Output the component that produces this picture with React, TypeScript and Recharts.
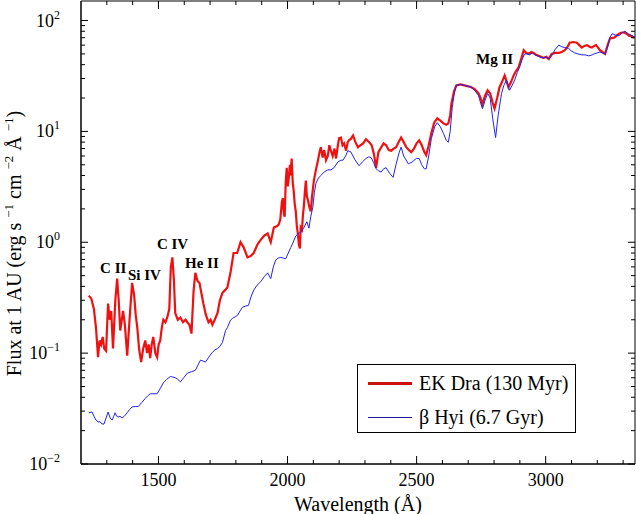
import {
  LineChart,
  Line,
  XAxis,
  YAxis,
  ReferenceArea,
  ReferenceDot,
  Legend,
} from "recharts";

// EK Dra (130 Myr) spectrum
const ekWave = [
  1230, 1240, 1250, 1258, 1266, 1272, 1278, 1284, 1290, 1297, 1305, 1311, 1317, 1324, 1333, 1340, 1346,
  1352, 1358, 1363, 1370, 1379, 1388, 1398, 1406, 1412, 1418, 1425, 1433, 1441, 1449, 1456, 1462, 1468,
  1474, 1480, 1488, 1495, 1501, 1507, 1513, 1519, 1527, 1534, 1542, 1548, 1554, 1560, 1565, 1575, 1585,
  1595, 1605, 1612, 1620, 1628, 1636, 1643, 1651, 1659, 1666, 1674, 1684, 1694, 1702, 1709, 1718, 1729,
  1738, 1748, 1758, 1767, 1779, 1791, 1805, 1818, 1830, 1845, 1857, 1869, 1883, 1896, 1910, 1923, 1935,
  1947, 1960, 1966, 1972, 1978, 1982, 1986, 1989, 1993, 1997, 2001, 2005, 2009, 2012, 2016, 2020, 2024,
  2028, 2032, 2036, 2040, 2044, 2048, 2051, 2056, 2060, 2063, 2067, 2071, 2075, 2079, 2084, 2090, 2095,
  2102, 2110, 2118, 2124, 2129, 2136, 2142, 2149, 2156, 2162, 2168, 2175, 2182, 2188, 2195, 2200, 2207,
  2213, 2219, 2227, 2233, 2238, 2246, 2254, 2263, 2273, 2283, 2293, 2304, 2316, 2326, 2335, 2343, 2352,
  2363, 2372, 2382, 2392, 2402, 2411, 2421, 2430, 2440, 2450, 2460, 2470, 2479, 2490, 2500, 2510, 2520,
  2530, 2537, 2547, 2557, 2568, 2580, 2592, 2604, 2615, 2623, 2630, 2635, 2645, 2654, 2670, 2685, 2700,
  2712, 2725, 2740, 2748, 2755, 2765, 2775, 2785, 2795, 2802, 2812, 2821, 2831, 2841, 2849, 2856, 2866,
  2876, 2885, 2895, 2905, 2915, 2925, 2934, 2944, 2953, 2963, 2973, 2982, 2992, 3002, 3012, 3023, 3037,
  3051, 3062, 3074, 3085, 3093, 3107, 3121, 3130, 3140, 3150, 3160, 3170, 3179, 3188, 3195, 3203, 3210,
  3220, 3230, 3240, 3249, 3265, 3275, 3284, 3295, 3303, 3313, 3323, 3333, 3342,
];
const ekFlux = [
  0.33, 0.31, 0.25, 0.17, 0.092, 0.13, 0.12, 0.14, 0.11, 0.105, 0.28, 0.2, 0.24, 0.11, 0.3, 0.47, 0.3,
  0.16, 0.2, 0.24, 0.18, 0.095, 0.2, 0.43, 0.33, 0.22, 0.17, 0.11, 0.083, 0.11, 0.13, 0.1, 0.12, 0.09,
  0.12, 0.14, 0.1, 0.092, 0.12, 0.13, 0.17, 0.2, 0.19, 0.21, 0.25, 0.6, 0.73, 0.45, 0.23, 0.2, 0.21,
  0.19, 0.2, 0.19, 0.18, 0.15, 0.36, 0.53, 0.45, 0.43, 0.35, 0.28, 0.22, 0.19, 0.2, 0.18, 0.2, 0.23,
  0.3, 0.35, 0.37, 0.39, 0.53, 0.8, 0.8, 1.0, 0.9, 0.73, 0.75, 0.8, 0.95, 1.05, 1.15, 1.2, 1.0,
  1.36, 1.4, 1.45, 1.6, 2.3, 2.5, 1.8, 1.7, 3.5, 4.7, 3.2, 3.8, 5.0, 4.0, 5.7, 3.5, 2.9,
  2.2, 1.9, 1.4, 1.2, 0.95, 0.88, 1.36, 1.3, 1.8, 2.07, 2.8, 3.6, 2.6, 2.4, 2.1, 1.9, 2.6,
  3.6, 4.5, 5.5, 6.5, 7.2, 5.8, 6.8, 5.5, 6.0, 7.5, 6.7, 6.0, 7.0, 5.7, 7.5, 8.7, 8.8,
  7.5, 7.8, 6.7, 8.0, 8.3, 8.6, 9.2, 8.0, 7.2, 7.5, 7.8, 8.5, 8.0, 7.5, 6.2, 4.7, 6.5,
  7.2, 7.8, 7.5, 6.8, 6.7, 7.0, 7.2, 8.0, 8.8, 8.0, 7.2, 6.8, 6.5, 7.0, 7.8, 8.3, 7.5,
  6.5, 6.1, 7.5, 9.6, 12, 13.1, 12.5, 11.8, 11.5, 11.8, 14, 17.9, 23, 26, 26.5, 26, 25.5,
  25, 24, 22, 20, 17.5, 21, 23.5, 22, 18, 16.1, 20, 24.9, 28, 32, 28, 25, 28,
  32, 35, 37.8, 45, 54, 51, 50, 52, 51, 49, 48, 47, 46, 47, 45, 50, 51,
  51, 52, 54, 58, 63, 64, 63, 60, 57, 59, 60, 58, 57, 59, 60, 57, 54,
  52, 50, 60, 69, 70, 73, 76, 78, 78, 76, 73, 72, 70,
];

// beta Hyi (6.7 Gyr) spectrum
const hyiWave = [
  1230, 1243, 1250, 1258, 1266, 1274, 1281, 1289, 1297, 1305, 1313, 1321, 1327, 1332, 1338, 1344, 1351,
  1359, 1368, 1379, 1388, 1398, 1410, 1422, 1436, 1449, 1458, 1468, 1480, 1495, 1507, 1519, 1532, 1546,
  1555, 1565, 1575, 1585, 1598, 1612, 1628, 1643, 1653, 1663, 1672, 1682, 1695, 1709, 1719, 1729, 1738,
  1748, 1760, 1767, 1779, 1787, 1797, 1807, 1816, 1826, 1837, 1849, 1858, 1869, 1882, 1896, 1910, 1923,
  1935, 1945, 1954, 1964, 1974, 1984, 1993, 2003, 2013, 2022, 2032, 2042, 2051, 2063, 2075, 2083, 2090,
  2098, 2104, 2110, 2120, 2129, 2142, 2156, 2168, 2180, 2195, 2207, 2215, 2225, 2234, 2246, 2260, 2277,
  2290, 2304, 2315, 2324, 2334, 2343, 2353, 2363, 2372, 2382, 2395, 2409, 2420, 2433, 2440, 2450, 2468,
  2483, 2499, 2510, 2520, 2530, 2537, 2547, 2557, 2570, 2580, 2592, 2604, 2615, 2623, 2630, 2638, 2646,
  2654, 2670, 2685, 2700, 2712, 2725, 2740, 2748, 2755, 2765, 2775, 2785, 2795, 2806, 2816, 2829, 2838,
  2848, 2854, 2860, 2870, 2880, 2890, 2899, 2908, 2918, 2928, 2938, 2948, 2958, 2968, 2978, 2990, 3000,
  3012, 3023, 3037, 3051, 3062, 3074, 3089, 3100, 3113, 3125, 3140, 3153, 3167, 3180, 3188, 3199, 3210,
  3220, 3230, 3240, 3249, 3257, 3270, 3284, 3295, 3307, 3320, 3335, 3345,
];
const hyiFlux = [
  0.029, 0.0294, 0.027, 0.0249, 0.024, 0.024, 0.023, 0.0229, 0.026, 0.0294, 0.026, 0.0249, 0.027, 0.029,
  0.027, 0.0265, 0.027, 0.026, 0.027, 0.029, 0.031, 0.0327, 0.033, 0.033, 0.036, 0.039, 0.041, 0.043,
  0.043, 0.043, 0.048, 0.054, 0.058, 0.0615, 0.061, 0.06, 0.058, 0.055, 0.06, 0.066, 0.068, 0.07, 0.078,
  0.0865, 0.085, 0.083, 0.092, 0.102, 0.107, 0.11, 0.115, 0.125, 0.16, 0.17, 0.198, 0.206, 0.212, 0.22,
  0.24, 0.26, 0.265, 0.27, 0.32, 0.37, 0.41, 0.44, 0.49, 0.53, 0.47, 0.6, 0.69, 0.72, 0.73, 0.72, 0.71,
  0.8, 0.9, 1.0, 1.14, 1.2, 1.23, 1.35, 1.53, 1.34, 1.7, 2.07, 2.8, 3.4, 3.8, 4.0, 4.3, 4.5, 4.5, 4.7,
  5.3, 5.5, 5.5, 6.0, 6.7, 6.5, 5.6, 4.9, 5.3, 5.7, 5.9, 5.8, 5.2, 4.6, 4.4, 4.3, 4.6, 4.7, 4.2, 3.85,
  5.0, 6.5, 7.2, 6.0, 5.1, 5.3, 5.7, 5.7, 5.0, 4.6, 4.6, 6.0, 8.6, 11, 12, 11, 9.6, 8.3, 8.0, 10, 16.4,
  22, 26, 26.5, 26, 25.5, 25, 23.5, 21, 18, 16, 19, 22, 20, 13, 8.8, 14, 22, 26, 29, 26, 23.5, 26, 29,
  34, 38, 44, 50, 50, 49, 51, 49, 48, 47, 46, 47, 45, 48, 55, 60, 58, 57, 56, 53, 51, 50, 49, 49, 48,
  49, 50, 51, 52, 51, 50, 58, 70, 76, 74, 73, 77, 80, 76, 73, 71,
];

const seriesNames = ["EK Dra (130 Myr)", "\u03b2 Hyi (6.7 Gyr)"];

const annoText = ["C II", "Si IV", "C IV", "He II", "Mg II"];
const annoWave = [1274, 1382, 1494, 1603, 2730];
const annoFlux = [0.526, 0.455, 0.865, 0.583, 40.2];

const xTicks = [
  1300, 1400, 1500, 1600, 1700, 1800, 1900, 2000, 2100, 2200, 2300, 2400, 2500, 2600, 2700, 2800, 2900,
  3000, 3100, 3200, 3300,
];
const yMajor = [0.01, 0.1, 1, 10, 100];
const yMinorMult = [2, 3, 4, 5, 6, 7, 8, 9];

const X_DOMAIN = [1200, 3346];
const Y_DOMAIN = [0.01, 150];
const FONT = '"Liberation Serif", "Times New Roman", Times, serif';
const PLOT_TOP = 1;
const PLOT_RIGHT = 635;

const ekData = ekWave.map((w, i) => ({ w, f: ekFlux[i] }));
const hyiData = hyiWave.map((w, i) => ({ w, f: hyiFlux[i] }));
const yTicks = [
  ...yMajor,
  ...yMajor.slice(0, -1).flatMap((d) => yMinorMult.map((m) => +(d * m).toPrecision(3))),
].sort((a, b) => a - b);

function XTick({ x, y, payload }: any) {
  const major = payload.value % 500 === 0;
  const len = major ? 8 : 4;
  return (
    <g>
      <line x1={x} y1={y} x2={x} y2={y - len} stroke="#000" />
      <line x1={x} y1={PLOT_TOP} x2={x} y2={PLOT_TOP + len} stroke="#000" />
      {major && (
        <text x={x} y={y + 22} textAnchor="middle" fontSize={18} fontFamily={FONT} fill="#000">
          {payload.value}
        </text>
      )}
    </g>
  );
}

function YTick({ x, y, payload }: any) {
  const lg = Math.log10(payload.value);
  const exp = Math.round(lg);
  const major = Math.abs(lg - exp) < 1e-6;
  const len = major ? 7 : 4;
  return (
    <g>
      <line x1={x} y1={y} x2={x + len} y2={y} stroke="#000" />
      <line x1={PLOT_RIGHT} y1={y} x2={PLOT_RIGHT - len} y2={y} stroke="#000" />
      {major && (
        <text x={x - 21} y={y + 6} textAnchor="end" fontSize={18} fontFamily={FONT} fill="#000">
          <tspan>10</tspan>
          <tspan dy={-8} fontSize={12}>
            {exp < 0 ? `\u2212${-exp}` : exp}
          </tspan>
        </text>
      )}
    </g>
  );
}

function YTitle({ viewBox }: any) {
  const cx = viewBox.x + 21;
  const cy = viewBox.y + viewBox.height / 2 + 11;
  const sup = (s: string) => (
    <>
      <tspan dy={-8} fontSize={13}>
        {s}
      </tspan>
      <tspan dy={8}> </tspan>
    </>
  );
  return (
    <text
      x={cx}
      y={cy}
      transform={`rotate(-90, ${cx}, ${cy})`}
      textAnchor="middle"
      fontSize={20}
      fontFamily={FONT}
      fill="#000"
    >
      <tspan>Flux at 1 AU (erg s </tspan>
      {sup("\u22121")}
      <tspan>cm </tspan>
      {sup("\u22122")}
      <tspan>Å </tspan>
      <tspan dy={-8} fontSize={13}>
        {"\u22121"}
      </tspan>
      <tspan dy={8}>)</tspan>
    </text>
  );
}

function XTitle({ viewBox }: any) {
  return (
    <text
      x={viewBox.x + viewBox.width / 2}
      y={viewBox.y + 47}
      textAnchor="middle"
      fontSize={20}
      fontFamily={FONT}
      fill="#000"
    >
      Wavelength (Å)
    </text>
  );
}

function LegendBox() {
  const colors = ["#cc1111", "#1a1a99"];
  return (
    <div
      style={{
        boxSizing: "border-box",
        width: 219,
        height: 69,
        border: "1px solid #000",
        background: "#fff",
        position: "relative",
        fontFamily: FONT,
        fontSize: 20,
        color: "#000",
      }}
    >
      {seriesNames.map((name, i) => (
        <div
          key={name}
          style={{
            position: "absolute",
            left: 10,
            top: 7 + i * 34,
            height: 22,
            display: "flex",
            alignItems: "center",
            whiteSpace: "nowrap",
          }}
        >
          <span style={{ display: "inline-block", width: 44, height: i === 0 ? 3 : 1, background: colors[i] }} />
          <span style={{ marginLeft: 7, lineHeight: "22px" }}>{name}</span>
        </div>
      ))}
    </div>
  );
}

export default function App() {
  return (
    <div style={{ position: "absolute", left: 0, top: 0, background: "#fff" }}>
      <LineChart width={636} height={514} margin={{ top: PLOT_TOP, right: 636 - PLOT_RIGHT, bottom: 0, left: 0 }}>
        <XAxis
          dataKey="w"
          type="number"
          domain={X_DOMAIN}
          allowDataOverflow
          ticks={xTicks}
          interval={0}
          tickSize={0}
          tickMargin={0}
          tickLine={false}
          axisLine={{ stroke: "#000" }}
          height={50}
          tick={<XTick />}
          label={<XTitle />}
        />
        <YAxis
          type="number"
          scale="log"
          domain={Y_DOMAIN}
          allowDataOverflow
          ticks={yTicks}
          interval={0}
          tickSize={0}
          tickMargin={0}
          tickLine={false}
          axisLine={{ stroke: "#000" }}
          width={81}
          tick={<YTick />}
          label={<YTitle />}
        />
        <ReferenceArea
          x1={X_DOMAIN[0]}
          x2={X_DOMAIN[1]}
          y1={Y_DOMAIN[0]}
          y2={Y_DOMAIN[1]}
          fill="none"
          fillOpacity={0}
          stroke="#000"
          strokeOpacity={1}
        />
        <Line
          data={ekData}
          dataKey="f"
          name={seriesNames[0]}
          type="linear"
          stroke="#f01010"
          strokeWidth={2.2}
          dot={false}
          isAnimationActive={false}
        />
        <Line
          data={hyiData}
          dataKey="f"
          name={seriesNames[1]}
          type="linear"
          stroke="#2222ee"
          strokeWidth={1}
          dot={false}
          isAnimationActive={false}
        />
        {annoText.map((t, i) => (
          <ReferenceDot
            key={t}
            x={annoWave[i]}
            y={annoFlux[i]}
            r={0}
            shape={(p: any) => (
              <text x={p.cx} y={p.cy} fontSize={15} fontWeight="bold" fontFamily={FONT} fill="#000">
                {t}
              </text>
            )}
          />
        ))}
        <Legend
          layout="vertical"
          align="center"
          verticalAlign="middle"
          wrapperStyle={{ left: 357, top: 364, width: 219, height: 69 }}
          content={() => <LegendBox />}
        />
      </LineChart>
    </div>
  );
}
